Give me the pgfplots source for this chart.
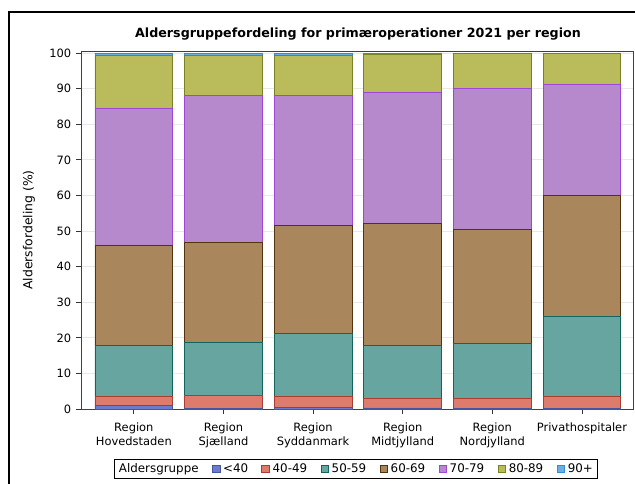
\documentclass[border=0pt]{standalone}
\usepackage{fontspec}
\setmainfont{DejaVu Sans}
\usepackage{pgfplots}
\pgfplotsset{compat=1.18}
\definecolor{cA}{RGB}{108,124,204}\definecolor{eA}{RGB}{68,86,160}
\definecolor{cB}{RGB}{221,123,109}\definecolor{eB}{RGB}{170,60,48}
\definecolor{cC}{RGB}{102,165,160}\definecolor{eC}{RGB}{20,100,94}
\definecolor{cD}{RGB}{169,134,91}\definecolor{eD}{RGB}{84,52,15}
\definecolor{cE}{RGB}{182,137,205}\definecolor{eE}{RGB}{157,70,215}
\definecolor{cF}{RGB}{186,188,92}\definecolor{eF}{RGB}{120,130,40}
\definecolor{cG}{RGB}{104,176,226}\definecolor{eG}{RGB}{50,140,220}
\begin{document}
\begin{tikzpicture}
\useasboundingbox (0,0) rectangle (476.25pt,362.25pt);
\draw[black, line width=0.8pt] (6.75pt,-2pt) -- (6.75pt,353.25pt) -- (480pt,353.25pt);
\node[anchor=base, font=\fontsize{9.5}{11}\selectfont\bfseries] at (268.5pt,334.3pt)
  {Aldersgruppefordeling for primæroperationer 2021 per region};
\begin{axis}[
  at={(60.75pt,55.5pt)}, anchor=south west,
  scale only axis, width=414pt, height=268.5pt,
  ybar stacked, bar width=0.868,
  xmin=-0.59, xmax=5.57, ymin=0, ymax=100.6,
  xtick={0,1,2,3,4,5},
  xticklabels={{Region\\Hovedstaden},{Region\\Sjælland},{Region\\Syddanmark},{Region\\Midtjylland},{Region\\Nordjylland},{Privathospitaler}},
  xticklabel style={align=center, font=\fontsize{8.6}{10.6}\selectfont, yshift=-3pt},
  ytick={0,10,...,100},
  yticklabel style={font=\fontsize{8.6}{10}\selectfont},
  /pgf/number format/assume math mode=true,
  tick align=outside, major tick length=3.75pt, tick pos=left,
  tick style={black!80, line width=0.6pt},
  ymajorgrids, grid style={black!9, line width=0.6pt},
  axis line style={black!75, line width=0.7pt},
  ylabel={Aldersfordeling (\%)},
  every axis y label/.style={at={(axis description cs:-0.0942,0.5)}, rotate=90, anchor=center, font=\fontsize{9.3}{11}\selectfont},
  legend columns=-1,
  legend image code/.code={\draw[#1] (0pt,-2.9pt) rectangle (5.8pt,2.9pt);},
  legend style={at={(axis description cs:0.498,-0.1676)}, anchor=center, draw=black, line width=0.6pt,
    font=\fontsize{8.9}{10}\selectfont, inner sep=1.2pt,
    /tikz/every even column/.append style={column sep=8pt}},
  every axis plot/.append style={line width=0.6pt},
]
\addlegendimage{empty legend}\addlegendentry{Aldersgruppe\hspace{4pt}}
\addplot[fill=cA, draw=eA] coordinates {(0,0.9) (1,0.2) (2,0.5) (3,0.3) (4,0.1) (5,0.1)};
\addlegendentry{<40}
\addplot[fill=cB, draw=eB] coordinates {(0,2.6) (1,3.5) (2,3.0) (3,2.6) (4,2.8) (5,3.4)};
\addlegendentry{40-49}
\addplot[fill=cC, draw=eC] coordinates {(0,14.3) (1,15.0) (2,17.7) (3,15.0) (4,15.6) (5,22.6)};
\addlegendentry{50-59}
\addplot[fill=cD, draw=eD] coordinates {(0,28.2) (1,28.1) (2,30.4) (3,34.3) (4,32.0) (5,33.8)};
\addlegendentry{60-69}
\addplot[fill=cE, draw=eE] coordinates {(0,38.5) (1,41.2) (2,36.4) (3,36.8) (4,39.6) (5,31.4)};
\addlegendentry{70-79}
\addplot[fill=cF, draw=eF] coordinates {(0,14.8) (1,11.5) (2,11.4) (3,10.7) (4,9.8) (5,8.5)};
\addlegendentry{80-89}
\addplot[fill=cG, draw=eG] coordinates {(0,0.7) (1,0.5) (2,0.6) (3,0.3) (4,0.1) (5,0.2)};
\addlegendentry{90+}
\end{axis}
\end{tikzpicture}
\end{document}
